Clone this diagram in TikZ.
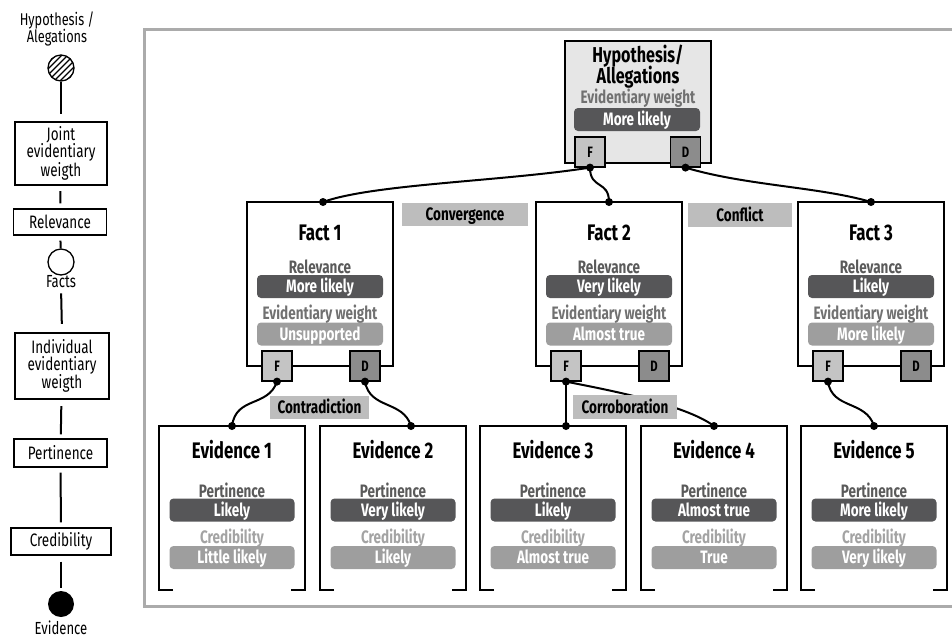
\documentclass[tikz,border=0pt]{standalone}
\usepackage{fontspec}
\setmainfont{Fira Sans}[FakeStretch=0.75]
\usetikzlibrary{calc}

\definecolor{pilldark}{HTML}{565658}
\definecolor{pilllight}{HTML}{9E9E9E}
\definecolor{tagfill}{HTML}{BDBDBD}
\definecolor{portF}{HTML}{C4C4C4}
\definecolor{portD}{HTML}{8C8C8C}
\definecolor{hypfill}{HTML}{E6E6E6}
\definecolor{framegray}{HTML}{ABABAB}
\definecolor{captdark}{HTML}{5A5A5A}
\definecolor{captmid}{HTML}{717171}
\definecolor{captlight}{HTML}{A3A3A3}

% Fact card: name, left, top, title, relevance, evidentiary weight
\newcommand\factcard[6]{%
  \node[card] (#1) at (#2,#3) {};
  \node[cardtitle] at ($(#1.north)+(0,38)$) {#4};
  \node[captiontext, text=captdark] at ($(#1.north)+(0,71)$) {Relevance};
  \node[pill, fill=pilldark] at ($(#1.north)+(0,84.5)$) {#5};
  \node[captiontext, text=captmid] at ($(#1.north)+(0,117)$) {Evidentiary weight};
  \node[pill, fill=pilllight] at ($(#1.north)+(0,132)$) {#6};
  \node[port, fill=portF] (#1F) at ($(#1.south west)+(30,0)$) {F};
  \node[port, fill=portD] (#1D) at ($(#1.south east)+(-28,0)$) {D};
}

% Evidence card with an open bottom edge: name, left, top, title, pertinence, credibility
\newcommand\evcard[6]{%
  \node[evbox] (#1) at (#2,#3) {};
  \draw[boxline] ($(#1.south west)+(14,0)$) -- (#1.south west) -- (#1.north west)
     -- (#1.north east) -- (#1.south east) -- ($(#1.south east)+(-14,0)$);
  \node[cardtitle] at ($(#1.north)+(0,32)$) {#4};
  \node[captiontext, text=captdark] at ($(#1.north)+(0,71)$) {Pertinence};
  \node[pill, fill=pilldark, minimum width=125pt] at ($(#1.north)+(0,84)$) {#5};
  \node[captiontext, text=captlight] at ($(#1.north)+(0,117)$) {Credibility};
  \node[pill, fill=pilllight, minimum width=125pt] at ($(#1.north)+(0,131.5)$) {#6};
}

\begin{document}
\begin{tikzpicture}[x=1pt, y=-1pt,
  boxline/.style={line width=1.2pt, draw=black},
  card/.style={boxline, anchor=north west, minimum width=146pt, minimum height=164pt,
    inner sep=0pt, outer sep=0pt},
  evbox/.style={anchor=north west, minimum width=146pt, minimum height=164pt,
    inner sep=0pt, outer sep=0pt},
  cardtitle/.style={anchor=base, inner sep=0pt, font=\bfseries\fontsize{22.5}{22.5}\selectfont},
  captiontext/.style={anchor=base, inner sep=0pt, font=\bfseries\fontsize{18}{18}\selectfont},
  pill/.style={rounded corners=4pt, minimum width=126pt, minimum height=23pt, inner sep=0pt,
    text=white, text height=12.4pt, text depth=0pt, font=\bfseries\fontsize{18}{18}\selectfont},
  port/.style={boxline, minimum size=30pt, inner sep=0pt, text height=10.4pt, text depth=0pt,
    font=\bfseries\fontsize{15}{15}\selectfont},
  tagbox/.style={fill=tagfill, inner sep=0pt, text height=12.4pt, text depth=0pt,
    font=\bfseries\fontsize{18}{18}\selectfont},
  linkline/.style={line width=2pt, draw=black},
  joint/.style={fill=black, circle, minimum size=8pt, inner sep=0pt},
  legtext/.style={anchor=base, inner sep=0pt, font=\fontsize{17.5}{17.5}\selectfont},
  legbox/.style={draw, line width=1.3pt, inner sep=0pt, align=center,
    font=\fontsize{18}{16.8}\selectfont},
  legline/.style={line width=2pt},
]
\useasboundingbox (0,0) rectangle (952,638);

% ---------- legend column ----------
\node[legtext, font=\fontsize{17}{17}\selectfont] (lgH1) at (57,25.5) {Hypothesis /};
\node[legtext, font=\fontsize{17}{17}\selectfont] (lgH2) at (57,42.5) {Alegations};
\node[circle, minimum size=26pt, inner sep=0pt] (lgHyp) at (61,68) {};
\begin{scope}
  \clip (lgHyp.center) circle[radius=13pt];
  \foreach \d in {-24,-18,...,24}
    \draw[line width=1.1pt] ($(lgHyp.center)+(\d-16,16)$) -- ++(32,-32);
\end{scope}
\draw[line width=1.3pt] (lgHyp.center) circle[radius=13pt];
\node[legbox, line width=2.2pt, minimum width=92pt, minimum height=63pt] (lgJoint)
  at (61,153.5) {Joint\\evidentiary\\weigth};
\node[legbox, minimum width=93pt, minimum height=26pt] (lgRel) at (60,222) {Relevance};
\node[circle, draw, line width=1.3pt, minimum size=26pt, inner sep=0pt] (lgFact) at (61,262) {};
\node[legtext] (lgFacts) at (61,287) {Facts};
\node[legbox, line width=2.2pt, minimum width=94pt, minimum height=66pt] (lgInd)
  at (62,366) {Individual\\evidentiary\\weigth};
\node[legbox, minimum width=93pt, minimum height=28pt] (lgPer) at (60.5,453) {Pertinence};
\node[legbox, minimum width=100pt, minimum height=27pt] (lgCred) at (61,541.5) {Credibility};
\node[circle, fill=black, minimum size=26pt, inner sep=0pt] (lgEv) at (61,604) {};
\node[legtext] (lgEvT) at (61,634.5) {Evidence};

\draw[legline, shorten <=1pt, shorten >=7pt] (lgHyp) -- (lgJoint);
\draw[legline, shorten <=5pt, shorten >=5pt] (lgJoint) -- (lgRel);
\draw[legline, shorten <=5pt] (lgRel) -- (lgFact);
\draw[legline, shorten <=6pt, shorten >=8pt] (lgFacts.south) -- (lgInd.north);
\draw[legline, shorten <=6pt, shorten >=4pt] (lgInd) -- (lgPer);
\draw[legline, shorten <=5pt, shorten >=5pt] (lgPer) -- (lgCred);
\draw[legline, shorten <=6pt, shorten >=3pt] (lgCred) -- (lgEv);

% ---------- frame ----------
\draw[framegray, line width=3pt] (952,29) -- (144,29) -- (144,606) -- (952,606);

% ---------- hypothesis ----------
\node[card, fill=hypfill, minimum height=122pt] (hyp) at (565,41) {};
\node[cardtitle, font=\bfseries\fontsize{21.5}{21.5}\selectfont] at (638,62) {Hypothesis/};
\node[cardtitle, font=\bfseries\fontsize{21.5}{21.5}\selectfont] at (638,83.5) {Allegations};
\node[captiontext, text=captmid] at (638,103) {Evidentiary weight};
\node[pill, fill=pilldark] at (637,119.5) {More likely};
\node[port, fill=portF] (hypF) at (590,152) {F};
\node[port, fill=portD] (hypD) at (685.5,152) {D};

% ---------- facts ----------
\factcard{f1}{247}{202}{Fact 1}{More likely}{Unsupported}
\factcard{f2}{536}{202}{Fact 2}{Very likely}{Almost true}
\factcard{f3}{798}{202}{Fact 3}{Likely}{More likely}

% ---------- evidence ----------
\evcard{e1}{159}{426}{Evidence 1}{Likely}{Little likely}
\evcard{e2}{320}{426}{Evidence 2}{Very likely}{Likely}
\evcard{e3}{480}{426}{Evidence 3}{Likely}{Almost true}
\evcard{e4}{641}{426}{Evidence 4}{Almost true}{True}
\evcard{e5}{801}{426}{Evidence 5}{More likely}{Very likely}

% ---------- connection points ----------
\coordinate (f1in) at ([xshift=3pt]f1.north);
\coordinate (e2in) at ([xshift=18pt]e2.north);
\coordinate (e3in) at (f2F.south |- e3.north);

% ---------- links ----------
\draw[linkline] (hypF.south) .. controls +(-90,14) and +(50,-18) .. (f1in);
\draw[linkline] (hypF.south) .. controls +(0,22) and +(0,-22) .. (f2.north);
\draw[linkline] (hypD.south) .. controls +(60,18) and +(-50,-15) .. (f3.north);
\draw[linkline] (f1F.south) .. controls +(-9,26) and +(4,-30) .. (e1.north);
\draw[linkline] (f1D.south) .. controls +(5,28) and +(-8,-26) .. (e2in);
\draw[linkline] (f2F.south) -- (e3in);
\draw[linkline] (f2F.south) .. controls +(40,8) and +(-30,-22) .. (e4.north);
\draw[linkline] (f3F.south) .. controls +(4,28) and +(-8,-26) .. (e5.north);

\foreach \p in {hypF.south, hypD.south, f1in, f2.north, f3.north,
                f1F.south, f1D.south, f2F.south, f3F.south,
                e1.north, e2in, e3in, e4.north, e5.north}
  \node[joint] at (\p) {};

% ---------- relation tags ----------
\node[tagbox, minimum width=126pt, minimum height=23pt] (tConv) at (465,214.5) {Convergence};
\node[tagbox, minimum width=104pt, minimum height=24pt] (tConf) at (740,215) {Conflict};
\node[tagbox, minimum width=99pt, minimum height=23pt] (tContra) at (319.5,407.5) {Contradiction};
\node[tagbox, minimum width=104pt, minimum height=24pt] (tCorr) at (625,407) {Corroboration};
\end{tikzpicture}
\end{document}
